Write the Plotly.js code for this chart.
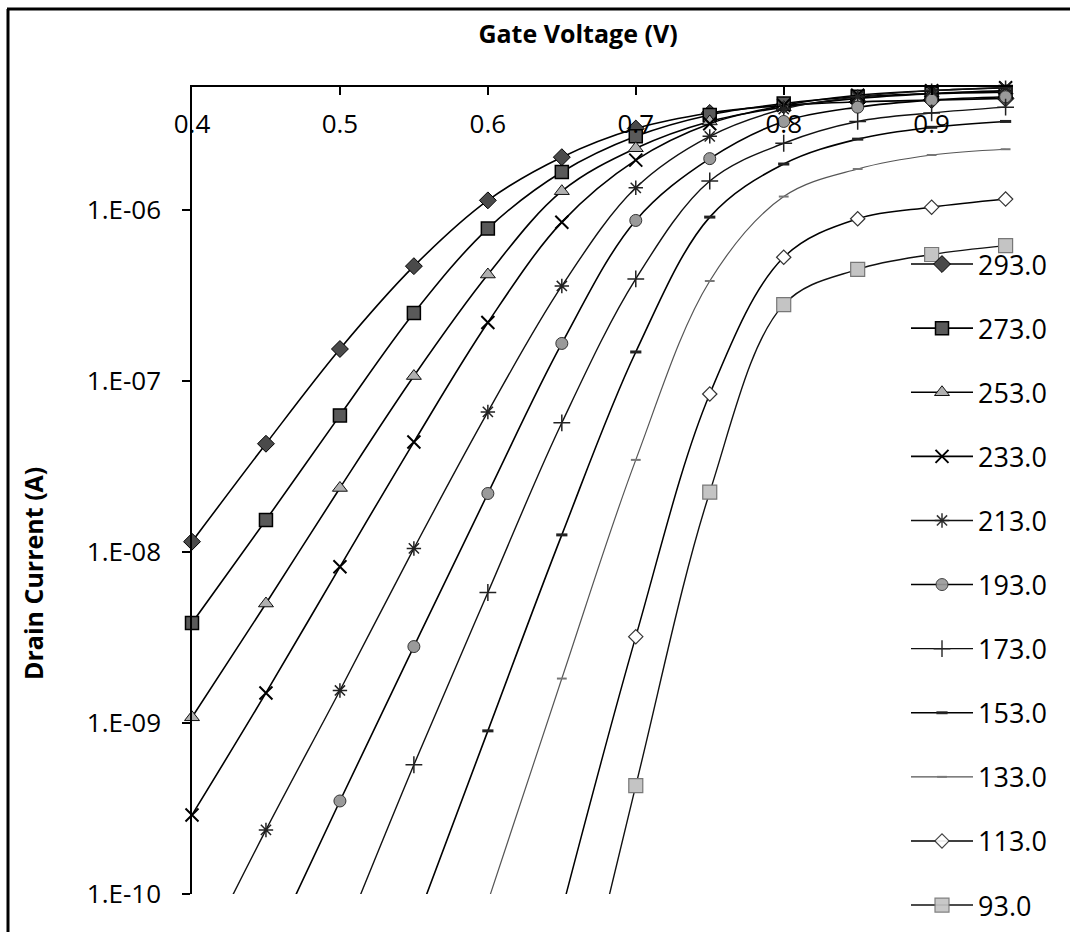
<!DOCTYPE html>
<html>
<head>
<meta charset="utf-8">
<script src="https://cdn.plot.ly/plotly-3.0.1.min.js"></script>
<style>
  html, body { margin: 0; padding: 0; background: #fff; }
  #chart { width: 1070px; height: 932px; }
</style>
</head>
<body>
<div id="chart"></div>
<script>
// Gate voltage (V)
const gateVoltage = [0.40, 0.45, 0.50, 0.55, 0.60, 0.65, 0.70, 0.75, 0.80, 0.85, 0.90, 0.95];

// Drain current (A) per temperature (K); null = far below the visible range
const id293 = [1.15e-8, 4.3e-8, 1.54e-7, 4.7e-7, 1.14e-6, 2.04e-6, 3.0e-6, 3.7e-6, 4.1e-6, 4.3e-6, 4.4e-6, 4.5e-6];
const id273 = [3.85e-9, 1.54e-8, 6.3e-8, 2.5e-7, 7.8e-7, 1.67e-6, 2.7e-6, 3.6e-6, 4.2e-6, 4.6e-6, 4.8e-6, 4.9e-6];
const id253 = [1.08e-9, 5.0e-9, 2.37e-8, 1.07e-7, 4.2e-7, 1.29e-6, 2.3e-6, 3.3e-6, 4.0e-6, 4.5e-6, 4.8e-6, 5.0e-6];
const id233 = [2.9e-10, 1.5e-9, 8.2e-9, 4.4e-8, 2.2e-7, 8.5e-7, 1.96e-6, 3.2e-6, 4.1e-6, 4.7e-6, 5.0e-6, 5.2e-6];
const id213 = [3.3e-11, 2.37e-10, 1.55e-9, 1.05e-8, 6.6e-8, 3.6e-7, 1.35e-6, 2.7e-6, 3.9e-6, 4.6e-6, 5.0e-6, 5.2e-6];
const id193 = [null, 4.2e-11, 3.5e-10, 2.8e-9, 2.2e-8, 1.66e-7, 8.7e-7, 2.0e-6, 3.3e-6, 4.0e-6, 4.4e-6, 4.6e-6];
const id173 = [null, null, 5.0e-11, 5.7e-10, 5.8e-9, 5.7e-8, 3.96e-7, 1.48e-6, 2.46e-6, 3.3e-6, 3.7e-6, 4.0e-6];
const id153 = [null, null, null, 6.3e-11, 9.0e-10, 1.26e-8, 1.48e-7, 9.1e-7, 1.86e-6, 2.6e-6, 3.05e-6, 3.3e-6];
const id133 = [null, null, null, null, 9.0e-11, 1.82e-9, 3.46e-8, 3.85e-7, 1.2e-6, 1.74e-6, 2.1e-6, 2.27e-6];
const id113 = [null, null, null, null, null, 8.0e-11, 3.2e-9, 8.4e-8, 5.3e-7, 8.9e-7, 1.04e-6, 1.16e-6];
const id93  = [null, null, null, null, null, 7.0e-12, 4.3e-10, 2.24e-8, 2.8e-7, 4.5e-7, 5.5e-7, 6.2e-7];

const seriesNames = ['293.0', '273.0', '253.0', '233.0', '213.0', '193.0', '173.0', '153.0', '133.0', '113.0', '93.0'];
const seriesValues = [id293, id273, id253, id233, id213, id193, id173, id153, id133, id113, id93];

const xTickVals = [0.4, 0.5, 0.6, 0.7, 0.8, 0.9];
const xTickText = ['0.4', '0.5', '0.6', '0.7', '0.8', '0.9'];
const yTickVals = [1e-10, 1e-9, 1e-8, 1e-7, 1e-6];
const yTickText = ['1.E-10', '1.E-09', '1.E-08', '1.E-07', '1.E-06'];

const xTitle = 'Gate Voltage (V)';
const yTitle = 'Drain Current (A)';

const yMinVisible = 1e-10;

// styles (one per series)
const styles = [
  {symbol: 'diamond', size: 13, color: '#4a4a4a', lc: '#000', lw: 1, line: '#000', width: 1.6},
  {symbol: 'square', size: 13, color: '#5a5a5a', lc: '#000', lw: 1.5, line: '#000', width: 1.6},
  {symbol: 'triangle-up', size: 13, color: '#b0b0b0', lc: '#111', lw: 1, line: '#000', width: 1.6},
  {symbol: 'x-thin', size: 13, color: '#000', lc: '#000', lw: 2, line: '#000', width: 1.6},
  {symbol: 'asterisk', size: 12, color: '#000', lc: '#222', lw: 1.5, line: '#111', width: 1.4},
  {symbol: 'circle', size: 12, color: '#9a9a9a', lc: '#333', lw: 1, line: '#000', width: 1.6},
  {symbol: 'cross-thin', size: 12, color: '#000', lc: '#222', lw: 1.5, line: '#111', width: 1.4},
  {symbol: 'line-ew', size: 8, color: '#000', lc: '#222', lw: 3, line: '#000', width: 1.6},
  {symbol: 'line-ew', size: 7, color: '#666', lc: '#777', lw: 2, line: '#555', width: 1.2},
  {symbol: 'diamond', size: 11, color: '#ffffff', lc: '#333', lw: 1.2, line: '#000', width: 1.5},
  {symbol: 'square', size: 14, color: '#c4c4c4', lc: '#777', lw: 1.2, line: '#111', width: 1.4}
];

const traces = seriesNames.map((name, i) => ({
  type: 'scatter',
  mode: 'lines+markers',
  name: name,
  legendgroup: 'g' + i,
  x: gateVoltage,
  y: seriesValues[i],
  connectgaps: false,
  line: {color: styles[i].line, width: styles[i].width, shape: 'spline', smoothing: 1},
  marker: {
    symbol: styles[i].symbol,
    size: styles[i].size,
    color: styles[i].color,
    // hide markers of points lying below the visible axis range
    opacity: seriesValues[i].map(v => (v !== null && v < yMinVisible) ? 0 : 1),
    line: {color: styles[i].lc, width: styles[i].lw}
  },
  cliponaxis: false,
  hoverinfo: 'x+y+name'
}));

const W = 1070, H = 932;
const L = 192, R = 57, T = 87, B = 38;
const pw = W - L - R, ph = H - T - B;
const px2paperX = p => (p - L) / pw;
const px2paperY = p => (H - B - p) / ph;

const layout = {
  width: W, height: H,
  margin: {l: L, r: R, t: T, b: B, pad: 0, autoexpand: false},
  paper_bgcolor: '#fff',
  plot_bgcolor: '#fff',
  font: {family: '"Open Sans", "Noto Sans", sans-serif', color: '#000', size: 26},
  title: {
    text: '<b>' + xTitle + '</b>',
    font: {size: 25, color: '#000'},
    xref: 'container', yref: 'container',
    x: 578 / W, xanchor: 'center',
    y: 1 - 34 / H, yanchor: 'middle'
  },
  showlegend: true,
  legend: {
    xref: 'container', yref: 'container',
    x: 906 / W, y: 1 - 240 / H,
    xanchor: 'left', yanchor: 'top',
    bgcolor: 'rgba(0,0,0,0)',
    borderwidth: 0,
    font: {size: 27, color: '#000'},
    tracegroupgap: 26,
    traceorder: 'grouped',
    itemwidth: 62,
    maxheight: 900
  },
  xaxis: {
    type: 'linear',
    range: [0.4, 0.955],
    side: 'top',
    tickmode: 'array',
    tickvals: xTickVals,
    ticktext: xTickText,
    ticks: 'inside',
    ticklen: 8,
    tickwidth: 1.5,
    tickcolor: '#000',
    ticklabelposition: 'inside',
    ticklabeloverflow: 'allow',
    ticklabelstandoff: 22,
    tickfont: {size: 26, color: '#000'},
    showline: true,
    linecolor: '#000',
    linewidth: 1.5,
    showgrid: false,
    zeroline: false,
    automargin: false
  },
  yaxis: {
    type: 'log',
    range: [-10, -5.28],
    tickmode: 'array',
    tickvals: yTickVals,
    ticktext: yTickText,
    ticks: 'outside',
    ticklen: 8,
    tickwidth: 1.5,
    tickcolor: '#000',
    ticklabelstandoff: 16,
    tickfont: {size: 26, color: '#000'},
    showline: true,
    linecolor: '#000',
    linewidth: 1.5,
    showgrid: false,
    zeroline: false,
    automargin: false
  },
  annotations: [
    {text: '<b>' + yTitle + '</b>', textangle: -90, showarrow: false,
     xref: 'paper', yref: 'paper', x: px2paperX(33), y: px2paperY(574),
     xanchor: 'center', yanchor: 'middle', font: {size: 25, color: '#000'}}
  ],
  shapes: [
    {type: 'line', xref: 'paper', yref: 'paper',
     x0: px2paperX(8), x1: px2paperX(8), y0: px2paperY(9), y1: px2paperY(945),
     line: {color: '#000', width: 3}},
    {type: 'line', xref: 'paper', yref: 'paper',
     x0: px2paperX(7), x1: px2paperX(1080), y0: px2paperY(9), y1: px2paperY(9),
     line: {color: '#000', width: 3}}
  ]
};

Plotly.newPlot('chart', traces, layout, {displayModeBar: false, responsive: false});
</script>
</body>
</html>
